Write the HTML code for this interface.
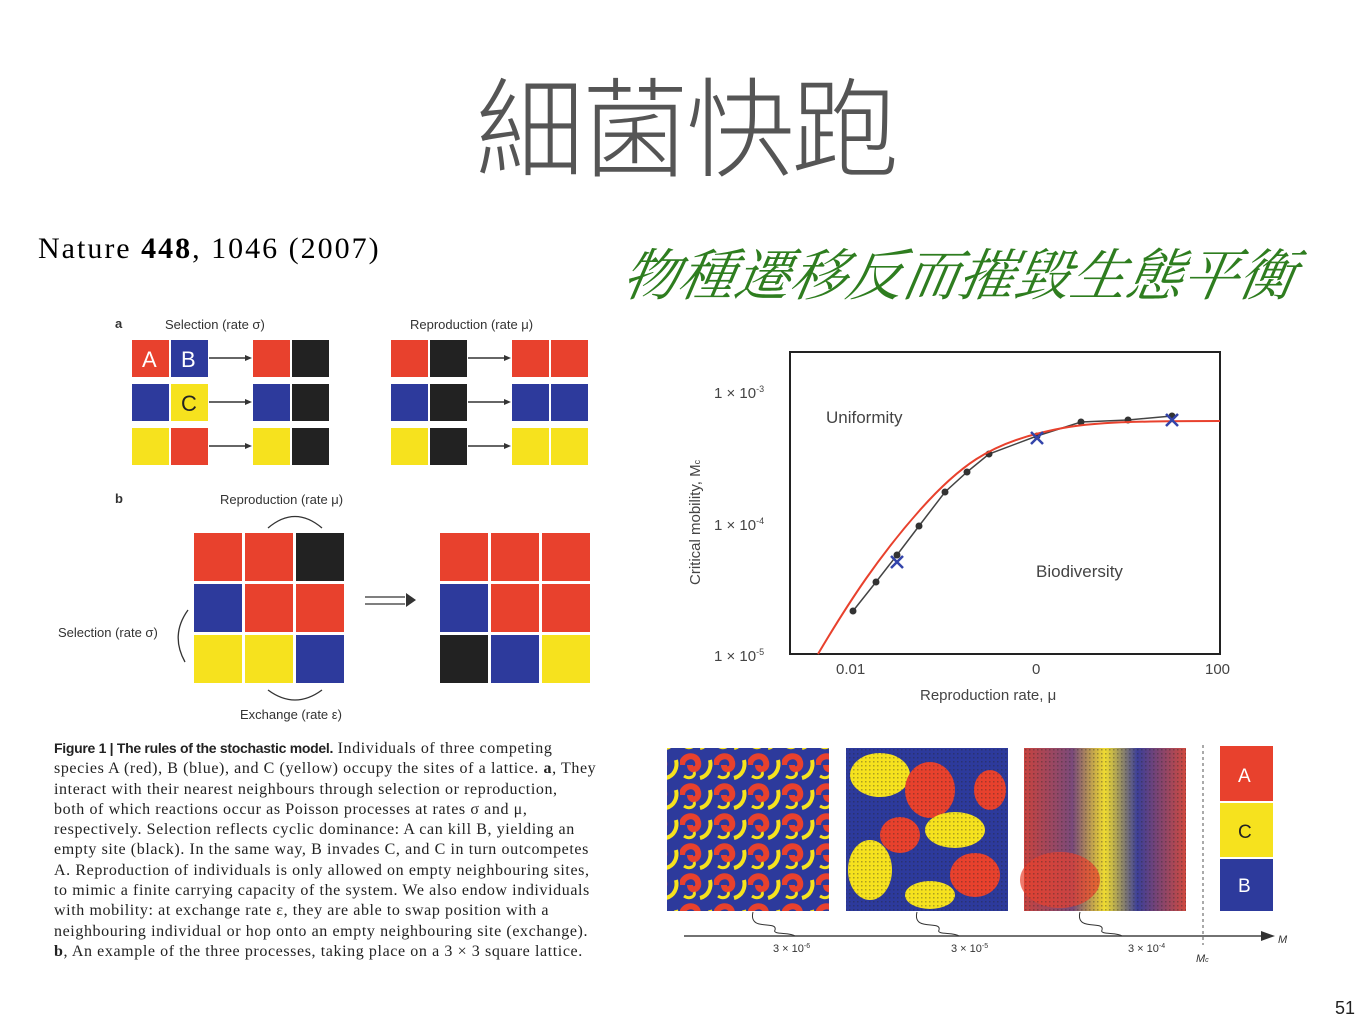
<!DOCTYPE html>
<html><head><meta charset="utf-8"><style>
body{margin:0;width:1365px;height:1024px;background:#fff;position:relative;overflow:hidden;font-family:"Liberation Sans",sans-serif}
.a{position:absolute}
.t{position:absolute;white-space:nowrap}
.cap{position:absolute;left:54px;top:738px;font-family:"Liberation Serif",serif;font-size:16px;line-height:20.3px;color:#222;letter-spacing:0.6px;white-space:nowrap}
</style></head><body>
<div class="t" style="left:476px;top:44px;font-size:108px;color:#555;font-family:'Noto Sans CJK TC',sans-serif;font-weight:300;letter-spacing:-3px">細菌快跑</div>
<div class="t" style="left:38px;top:232px;font-size:30px;font-family:'Liberation Serif',serif;letter-spacing:2px">Nature <b>448</b>, 1046 (2007)</div>
<div class="t" style="left:624px;top:232px;font-size:56px;color:#2e7d1f;font-style:italic;font-family:'Noto Serif CJK SC','Noto Sans CJK TC',sans-serif;letter-spacing:0px;transform:skewX(-10deg)">物種遷移反而摧毀生態平衡</div>

<svg class="a" style="left:0;top:0" width="1365" height="1024">
<g font-size="13" fill="#333" font-family="Liberation Sans">
<text x="115" y="328" font-weight="bold">a</text>
<text x="165" y="329">Selection (rate σ)</text>
<text x="410" y="329">Reproduction (rate μ)</text>
<text x="115" y="503" font-weight="bold">b</text>
<text x="220" y="504">Reproduction (rate μ)</text>
<text x="58" y="637">Selection (rate σ)</text>
<text x="240" y="719">Exchange (rate ε)</text>
</g>
<g>
<rect x="132" y="340" width="37" height="37" fill="#e8412d"/><rect x="171" y="340" width="37" height="37" fill="#2d3a9c"/>
<rect x="132" y="384" width="37" height="37" fill="#2d3a9c"/><rect x="171" y="384" width="37" height="37" fill="#f6e21e"/>
<rect x="132" y="428" width="37" height="37" fill="#f6e21e"/><rect x="171" y="428" width="37" height="37" fill="#e8412d"/>
<rect x="253" y="340" width="37" height="37" fill="#e8412d"/><rect x="292" y="340" width="37" height="37" fill="#222"/>
<rect x="253" y="384" width="37" height="37" fill="#2d3a9c"/><rect x="292" y="384" width="37" height="37" fill="#222"/>
<rect x="253" y="428" width="37" height="37" fill="#f6e21e"/><rect x="292" y="428" width="37" height="37" fill="#222"/>
<rect x="391" y="340" width="37" height="37" fill="#e8412d"/><rect x="430" y="340" width="37" height="37" fill="#222"/>
<rect x="391" y="384" width="37" height="37" fill="#2d3a9c"/><rect x="430" y="384" width="37" height="37" fill="#222"/>
<rect x="391" y="428" width="37" height="37" fill="#f6e21e"/><rect x="430" y="428" width="37" height="37" fill="#222"/>
<rect x="512" y="340" width="37" height="37" fill="#e8412d"/><rect x="551" y="340" width="37" height="37" fill="#e8412d"/>
<rect x="512" y="384" width="37" height="37" fill="#2d3a9c"/><rect x="551" y="384" width="37" height="37" fill="#2d3a9c"/>
<rect x="512" y="428" width="37" height="37" fill="#f6e21e"/><rect x="551" y="428" width="37" height="37" fill="#f6e21e"/>
<g font-size="22" fill="#fff" font-family="Liberation Sans"><text x="142" y="367">A</text><text x="181" y="367">B</text></g>
<text x="181" y="411" font-size="22" fill="#222">C</text>
<g stroke="#333" stroke-width="1.5"><line x1="209" y1="358" x2="247" y2="358"/><line x1="209" y1="402" x2="247" y2="402"/><line x1="209" y1="446" x2="247" y2="446"/>
<line x1="468" y1="358" x2="506" y2="358"/><line x1="468" y1="402" x2="506" y2="402"/><line x1="468" y1="446" x2="506" y2="446"/></g>
<g fill="#333"><path d="M252 358l-7-3v6z"/><path d="M252 402l-7-3v6z"/><path d="M252 446l-7-3v6z"/><path d="M511 358l-7-3v6z"/><path d="M511 402l-7-3v6z"/><path d="M511 446l-7-3v6z"/></g>
<rect x="194" y="533" width="48" height="48" fill="#e8412d"/><rect x="245" y="533" width="48" height="48" fill="#e8412d"/><rect x="296" y="533" width="48" height="48" fill="#222"/>
<rect x="194" y="584" width="48" height="48" fill="#2d3a9c"/><rect x="245" y="584" width="48" height="48" fill="#e8412d"/><rect x="296" y="584" width="48" height="48" fill="#e8412d"/>
<rect x="194" y="635" width="48" height="48" fill="#f6e21e"/><rect x="245" y="635" width="48" height="48" fill="#f6e21e"/><rect x="296" y="635" width="48" height="48" fill="#2d3a9c"/>
<rect x="440" y="533" width="48" height="48" fill="#e8412d"/><rect x="491" y="533" width="48" height="48" fill="#e8412d"/><rect x="542" y="533" width="48" height="48" fill="#e8412d"/>
<rect x="440" y="584" width="48" height="48" fill="#2d3a9c"/><rect x="491" y="584" width="48" height="48" fill="#e8412d"/><rect x="542" y="584" width="48" height="48" fill="#e8412d"/>
<rect x="440" y="635" width="48" height="48" fill="#222"/><rect x="491" y="635" width="48" height="48" fill="#2d3a9c"/><rect x="542" y="635" width="48" height="48" fill="#f6e21e"/>
<g fill="none" stroke="#333" stroke-width="1.3">
<path d="M268 528Q295 505 322 528"/><path d="M268 690Q295 710 322 690"/><path d="M188 610Q170 635 185 662"/>
<path d="M365 597l40 0M365 604l40 0"/>
</g>
<path d="M416 600l-10-7v14z" fill="#333"/>
</g>

<g font-family="Liberation Sans" fill="#444" font-size="15">
<rect x="790" y="352" width="430" height="302" fill="none" stroke="#222" stroke-width="2"/>
<text x="714" y="398">1 × 10<tspan font-size="9" dy="-6">-3</tspan></text>
<text x="714" y="530">1 × 10<tspan font-size="9" dy="-6">-4</tspan></text>
<text x="714" y="661">1 × 10<tspan font-size="9" dy="-6">-5</tspan></text>
<text x="836" y="674">0.01</text><text x="1032" y="674">0</text><text x="1205" y="674">100</text>
<text x="920" y="700">Reproduction rate, μ</text>
<text x="826" y="423" font-size="17">Uniformity</text>
<text x="1036" y="577" font-size="17">Biodiversity</text>
<text transform="translate(700 585) rotate(-90)">Critical mobility, M<tspan font-size="9">c</tspan></text>
</g>
<polyline points="853,611 876,582 897,555 919,526 945,492 967,472 989,454 1037,436 1081,422 1128,420 1172,416" fill="none" stroke="#444" stroke-width="1.5"/>
<g fill="#333"><circle cx="853" cy="611" r="3.5"/><circle cx="876" cy="582" r="3.5"/><circle cx="897" cy="555" r="3.5"/><circle cx="919" cy="526" r="3.5"/><circle cx="945" cy="492" r="3.5"/><circle cx="967" cy="472" r="3.5"/><circle cx="989" cy="454" r="3.5"/><circle cx="1037" cy="436" r="3.5"/><circle cx="1081" cy="422" r="3.5"/><circle cx="1128" cy="420" r="3.5"/><circle cx="1172" cy="416" r="3.5"/></g>
<path d="M818 654C850 600 880 555 920 510C960 465 990 445 1040 433C1080 423 1110 421 1220 421" fill="none" stroke="#e8412d" stroke-width="2"/>
<g stroke="#3344aa" stroke-width="2.5"><path d="M891 556l12 12M903 556l-12 12"/><path d="M1031 432l12 12M1043 432l-12 12"/><path d="M1166 414l12 12M1178 414l-12 12"/></g>

<defs>
<pattern id="p1" width="34" height="30" patternUnits="userSpaceOnUse"><rect width="34" height="30" fill="#2d3a9c"/><path d="M2 15C2 5 16 3 18 12C20 20 10 22 10 15" fill="none" stroke="#e8412d" stroke-width="6"/><path d="M20 28C28 26 32 18 30 10" fill="none" stroke="#f6e21e" stroke-width="4"/><path d="M4 26C10 30 16 26 14 22" fill="none" stroke="#f6e21e" stroke-width="3"/></pattern>
<pattern id="p2" width="4" height="4" patternUnits="userSpaceOnUse"><rect x="1" y="1" width="1.5" height="1.5" fill="#222" opacity=".35"/></pattern>
<linearGradient id="g3" x1="0" x2="1"><stop offset="0" stop-color="#c8433f"/><stop offset=".3" stop-color="#7a4a7a"/><stop offset=".5" stop-color="#f0dc30"/><stop offset=".7" stop-color="#3d3f98"/><stop offset="1" stop-color="#d04a40"/></linearGradient>
</defs>
<rect x="667" y="748" width="162" height="163" fill="url(#p1)"/>
<rect x="846" y="748" width="162" height="163" fill="#2d3a9c"/>
<g>
<ellipse cx="880" cy="775" rx="30" ry="22" fill="#f6e21e"/><ellipse cx="930" cy="790" rx="25" ry="28" fill="#e8412d"/><ellipse cx="955" cy="830" rx="30" ry="18" fill="#f6e21e"/>
<ellipse cx="870" cy="870" rx="22" ry="30" fill="#f6e21e"/><ellipse cx="900" cy="835" rx="20" ry="18" fill="#e8412d"/><ellipse cx="975" cy="875" rx="25" ry="22" fill="#e8412d"/>
<ellipse cx="930" cy="895" rx="25" ry="14" fill="#f6e21e"/><ellipse cx="990" cy="790" rx="16" ry="20" fill="#e8412d"/>
</g>
<rect x="846" y="748" width="162" height="163" fill="url(#p2)"/>
<rect x="1024" y="748" width="162" height="163" fill="url(#g3)"/>
<ellipse cx="1060" cy="880" rx="40" ry="28" fill="#e8412d" opacity=".7"/>
<rect x="1024" y="748" width="162" height="163" fill="url(#p2)"/>
<line x1="1203" y1="745" x2="1203" y2="945" stroke="#555" stroke-dasharray="3,3"/>
<rect x="1220" y="746" width="53" height="55" fill="#e8412d"/><rect x="1220" y="803" width="53" height="54" fill="#f6e21e"/><rect x="1220" y="859" width="53" height="52" fill="#2d3a9c"/>
<g font-size="19" font-family="Liberation Sans"><text x="1238" y="782" fill="#fff">A</text><text x="1238" y="838" fill="#222">C</text><text x="1238" y="892" fill="#fff">B</text></g>
<line x1="684" y1="936" x2="1265" y2="936" stroke="#444" stroke-width="1.5"/><path d="M1275 936l-14-5v10z" fill="#333"/>
<g fill="none" stroke="#333"><path d="M753 912c-5 20 25 8 22 18c-3 5 15 2 20 6"/><path d="M917 912c-5 20 25 8 22 18c-3 5 15 2 20 6"/><path d="M1080 912c-5 20 25 8 22 18c-3 5 15 2 20 6"/></g>
<g font-size="11" fill="#333"><text x="773" y="952">3 × 10<tspan font-size="7" dy="-4">-6</tspan></text><text x="951" y="952">3 × 10<tspan font-size="7" dy="-4">-5</tspan></text><text x="1128" y="952">3 × 10<tspan font-size="7" dy="-4">-4</tspan></text>
<text x="1196" y="962" font-style="italic">M<tspan font-size="7">c</tspan></text><text x="1278" y="943" font-style="italic">M</text></g>
<text x="1335" y="1014" font-size="18" fill="#222">51</text>
</svg>
<div class="cap"><b style="font-family:'Liberation Sans';font-size:14px;letter-spacing:-0.3px">Figure 1 | The rules of the stochastic model.</b> Individuals of three competing<br>species A (red), B (blue), and C (yellow) occupy the sites of a lattice. <b>a</b>, They<br>interact with their nearest neighbours through selection or reproduction,<br>both of which reactions occur as Poisson processes at rates σ and μ,<br>respectively. Selection reflects cyclic dominance: A can kill B, yielding an<br>empty site (black). In the same way, B invades C, and C in turn outcompetes<br>A. Reproduction of individuals is only allowed on empty neighbouring sites,<br>to mimic a finite carrying capacity of the system. We also endow individuals<br>with mobility: at exchange rate ε, they are able to swap position with a<br>neighbouring individual or hop onto an empty neighbouring site (exchange).<br><b>b</b>, An example of the three processes, taking place on a 3 × 3 square lattice.</div>
</body></html>
